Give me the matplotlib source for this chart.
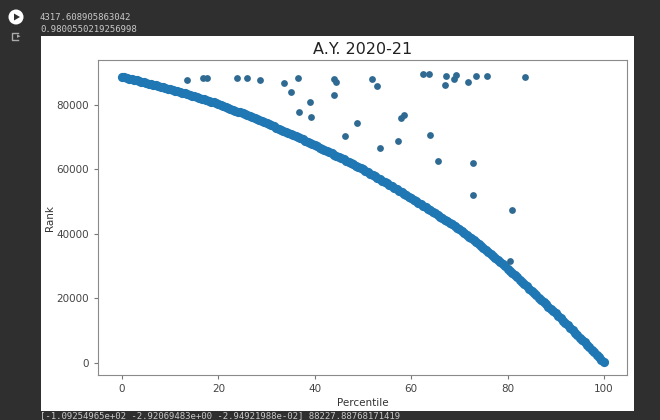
import matplotlib.pyplot as plt
import matplotlib.patches as mpatches
from matplotlib.lines import Line2D

# main trend: percentile vs rank, every half percentile
percentile = [i / 2 for i in range(201)]
rank = [88700, 88525, 88350, 88175, 88000, 87820, 87640, 87445, 87250, 87050,
        86850, 86655, 86460, 86265, 86070, 85875, 85680, 85485, 85290, 85095,
        84900, 84680, 84460, 84240, 84020, 83800, 83580, 83360, 83140, 82920,
        82700, 82460, 82220, 81980, 81740, 81500, 81260, 81020, 80780, 80540,
        80300, 80010, 79720, 79430, 79140, 78850, 78560, 78270, 77980, 77690,
        77400, 77090, 76780, 76470, 76160, 75850, 75540, 75230, 74920, 74610,
        74300, 73980, 73660, 73340, 73020, 72700, 72380, 72060, 71740, 71420,
        71100, 70740, 70380, 70020, 69660, 69300, 68940, 68580, 68220, 67860,
        67500, 67140, 66780, 66420, 66060, 65700, 65340, 64980, 64620, 64260,
        63900, 63510, 63120, 62730, 62340, 61950, 61560, 61170, 60780, 60390,
        60000, 59570, 59140, 58710, 58280, 57850, 57420, 56990, 56560, 56130,
        55700, 55240, 54780, 54320, 53860, 53400, 52940, 52480, 52020, 51560,
        51100, 50630, 50160, 49690, 49220, 48750, 48280, 47810, 47340, 46870,
        46400, 45910, 45420, 44930, 44440, 43950, 43460, 42970, 42480, 41990,
        41500, 40930, 40360, 39790, 39220, 38650, 38080, 37510, 36940, 36370,
        35800, 35150, 34500, 33850, 33200, 32550, 31900, 31250, 30600, 29950,
        29300, 28610, 27920, 27230, 26540, 25850, 25160, 24470, 23780, 23090,
        22400, 21700, 21000, 20300, 19600, 18900, 18200, 17500, 16800, 16100,
        15400, 14650, 13900, 13150, 12400, 11650, 10900, 10150, 9400, 8650,
        7900, 7140, 6380, 5620, 4860, 4100, 3340, 2580, 1820, 1060, 300]

# scattered points off the curve
out_pct = [13.4, 16.7, 17.6, 23.9, 26.0, 28.6, 33.7, 35.0, 36.6, 36.7,
           39.0, 39.2, 44.0, 44.4, 44.0, 46.3, 48.7, 51.9, 53.0, 53.5,
           57.3, 57.9, 58.5, 62.5, 63.6, 63.9, 65.6, 67.0, 67.2, 68.9,
           69.3, 71.7, 72.8, 72.9, 73.4, 75.8, 80.5, 81.0, 83.6]
out_rank = [87750, 88280, 88280, 88280, 88280, 87650, 86900, 84130, 88280, 77830,
            80840, 76280, 88060, 87220, 83000, 70390, 74330, 88060, 85890, 66760,
            68840, 76070, 76900, 89610, 89610, 70700, 62640, 86200, 89090, 88060,
            89300, 87220, 52000, 61920, 89090, 88900, 31630, 47350, 88680]

console_top = ["4317.608905863042", "0.9800550219256998"]
console_bottom = "[-1.09254965e+02 -2.92069483e+00 -2.94921988e-02] 88227.88768171419"

W, H = 660, 420
fig = plt.figure(figsize=(6.6, 4.2), dpi=100, facecolor='#2f2f2f')

# white output panel
fig.patches.append(mpatches.Rectangle((41 / W, 1 - 411 / H), (634 - 41) / W, (411 - 36) / H,
                                      transform=fig.transFigure, facecolor='white',
                                      edgecolor='none', zorder=-5))

# colab run icon and output icon
fig.patches.append(mpatches.Ellipse((16 / W, 1 - 17 / H), 15 / W, 15 / H,
                                    transform=fig.transFigure,
                                    facecolor='white', edgecolor='none'))
fig.patches.append(mpatches.Polygon([(14 / W, 1 - 13.5 / H), (14 / W, 1 - 20.5 / H),
                                     (20 / W, 1 - 17 / H)], closed=True,
                                    transform=fig.transFigure, facecolor='#2f2f2f'))
fig.lines.append(Line2D([18 / W, 12 / W, 12 / W, 18 / W],
                        [1 - 33 / H, 1 - 33 / H, 1 - 40 / H, 1 - 40 / H],
                        transform=fig.transFigure, color='#aaaaaa', lw=1))
fig.text(17 / W, 1 - 36.5 / H, '\u25b8', color='#aaaaaa', fontsize=5, va='center')

for i, t in enumerate(console_top):
    fig.text(40 / W, 1 - (17 + 13 * i) / H, t, family='DejaVu Sans Mono', fontsize=6.5,
             color='#c8c8c8', va='center')
fig.text(40 / W, 1 - 416 / H, console_bottom, family='DejaVu Sans Mono', fontsize=6.5,
         color='#c8c8c8', va='center')

ax = fig.add_axes([98 / W, 1 - 375 / H, (627 - 98) / W, (375 - 60) / H])
ax.set_zorder(2)
ax.scatter(percentile, rank, s=44, color='#1f77b4', linewidths=0)
ax.scatter(out_pct, out_rank, s=24, color='#2f6a92', linewidths=0)

ax.set_xlim(-5, 104.8)
ax.set_ylim(-3720, 93950)
ax.set_xticks([0, 20, 40, 60, 80, 100])
ax.set_yticks([0, 20000, 40000, 60000, 80000])
ax.set_title('A.Y. 2020-21', fontsize=11.5, color='#222222', pad=4)
ax.set_xlabel('Percentile', fontsize=7.5, color='#333333', labelpad=3)
ax.set_ylabel('Rank', fontsize=7.5, color='#333333', labelpad=1)
ax.tick_params(labelsize=7.5, labelcolor='#444444', color='#777777', length=3)
for sp in ax.spines.values():
    sp.set_color('#8a8a8a')

fig.savefig('out.png', dpi=100, facecolor=fig.get_facecolor())
